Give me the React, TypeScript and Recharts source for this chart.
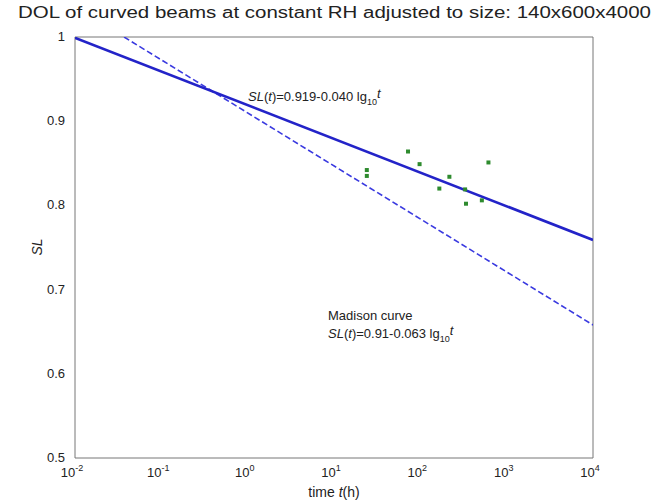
import { ScatterChart, Scatter, XAxis, YAxis, ReferenceLine } from 'recharts';

// fitted line end points (straight in log10 t)
const fitLine = [
  { t: 0.01, sl: 0.999 },
  { t: 10000, sl: 0.759 },
];
const madisonLine = [
  { t: 0.037, sl: 1.0 },
  { t: 10000, sl: 0.658 },
];

// test results
const testTimes = [24, 24, 72, 98, 166, 217, 330, 338, 516, 615];
const testSL = [0.842, 0.835, 0.864, 0.849, 0.82, 0.834, 0.819, 0.802, 0.806, 0.851];
const testPoints = testTimes.map((t, i) => ({ t, sl: testSL[i] }));

const xTicks = [0.01, 0.1, 1, 10, 100, 1000, 10000];
const yTicks = [0.5, 0.6, 0.7, 0.8, 0.9, 1];

const FONT = '"Liberation Sans", Arial, sans-serif';
const TEXT = '#222';

const XTick = (props: any) => {
  const { x, y, payload } = props;
  const exp = Math.round(Math.log10(payload.value));
  return (
    <text x={x - 3} y={y + 11} textAnchor="middle" fontSize={13} fill={TEXT} fontFamily={FONT}>
      10
      <tspan dy={-6} fontSize={9}>{exp}</tspan>
    </text>
  );
};

const YTick = (props: any) => {
  const { x, y, payload } = props;
  return (
    <text x={x - 2} y={y + 4} textAnchor="end" fontSize={13} fill={TEXT} fontFamily={FONT}>
      {String(payload.value)}
    </text>
  );
};

const Square = (props: any) => {
  const { cx, cy } = props;
  if (cx == null || cy == null) return <g />;
  return <rect x={cx - 2} y={cy - 2} width={4} height={4} fill="#2e8b2e" />;
};

const NoShape = () => <g />;

export default function App() {
  return (
    <div style={{ position: 'absolute', left: 0, top: 0, width: 651, height: 503, background: '#fff' }}>
      <ScatterChart width={651} height={503} margin={{ top: 37, right: 58, bottom: 0, left: 0 }}>
        <XAxis
          type="number"
          dataKey="t"
          scale="log"
          domain={[0.01, 10000]}
          ticks={xTicks}
          allowDataOverflow
          height={45}
          tick={<XTick />}
          tickLine={false}
          stroke="#777"
        />
        <YAxis
          type="number"
          dataKey="sl"
          domain={[0.5, 1]}
          ticks={yTicks}
          allowDataOverflow
          width={75}
          tick={<YTick />}
          tickLine={false}
          stroke="#777"
        />
        <ReferenceLine y={1} stroke="#777" />
        <ReferenceLine x={10000} stroke="#777" />
        <Scatter
          data={madisonLine}
          line={{ stroke: '#3a3ae0', strokeWidth: 1.6, strokeDasharray: '6 3' }}
          shape={NoShape}
          isAnimationActive={false}
        />
        <Scatter
          data={fitLine}
          line={{ stroke: '#2323c8', strokeWidth: 2.6 }}
          shape={NoShape}
          isAnimationActive={false}
        />
        <Scatter data={testPoints} shape={<Square />} isAnimationActive={false} />
      </ScatterChart>
      <svg
        width={651}
        height={503}
        style={{ position: 'absolute', left: 0, top: 0, pointerEvents: 'none' }}
        fontFamily={FONT}
        fill={TEXT}
      >
        <text x={18} y={18} fontSize={16} textLength={633} lengthAdjust="spacingAndGlyphs">
          DOL of curved beams at constant RH adjusted to size: 140x600x4000
        </text>
        <text x={248} y={101} fontSize={13}>
          <tspan fontStyle="italic">SL</tspan>(<tspan fontStyle="italic">t</tspan>)=0.919-0.040 lg
          <tspan dy={4} fontSize={9}>10</tspan>
          <tspan dy={-7} fontStyle="italic">t</tspan>
        </text>
        <text x={328} y={320} fontSize={13}>Madison curve</text>
        <text x={328} y={338} fontSize={13}>
          <tspan fontStyle="italic">SL</tspan>(<tspan fontStyle="italic">t</tspan>)=0.91-0.063 lg
          <tspan dy={4} fontSize={9}>10</tspan>
          <tspan dy={-7} fontStyle="italic">t</tspan>
        </text>
        <text x={42} y={247} fontSize={14} textAnchor="middle" transform="rotate(-90 42 247)" fontStyle="italic">
          SL
        </text>
        <text x={334} y={497} fontSize={14} textAnchor="middle">
          time  <tspan fontStyle="italic">t</tspan>(h)
        </text>
      </svg>
    </div>
  );
}
